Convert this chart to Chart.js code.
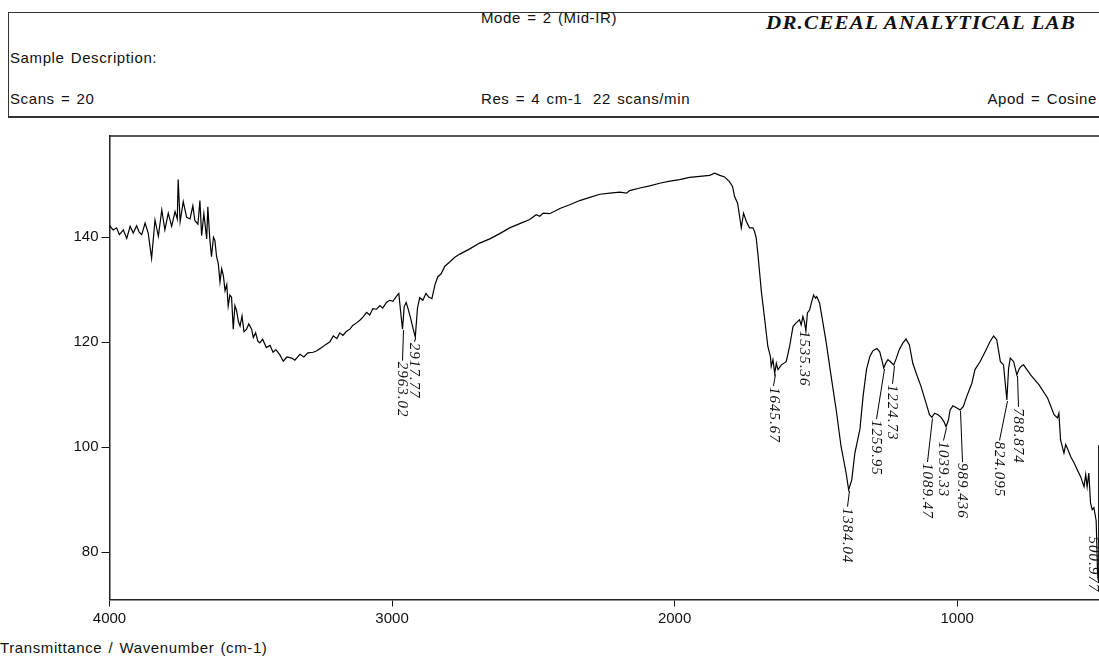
<!DOCTYPE html>
<html>
<head>
<meta charset="utf-8">
<script src="https://cdn.jsdelivr.net/npm/chart.js@4.4.1/dist/chart.umd.min.js"></script>
<style>
  html, body { margin:0; padding:0; background:#fff; }
  body { width:1099px; height:660px; position:relative; overflow:hidden; font-family:"Liberation Sans", Arial, sans-serif; color:#111; }
  .t { position:absolute; font-size:15px; line-height:16px; letter-spacing:0.6px; word-spacing:1.5px; white-space:nowrap; }
  #box { position:absolute; left:8px; top:12px; width:1100px; height:103px; border-top:1.5px solid #333; border-left:1.5px solid #333; border-bottom:2px solid #333; }
  #lab { position:absolute; left:766px; top:13px; font-family:"Liberation Serif", "Times New Roman", serif; font-weight:bold; font-style:italic; font-size:18px; line-height:20px; letter-spacing:1px; white-space:nowrap; color:#111; transform:scaleX(1.17); transform-origin:0 0; }
  canvas { position:absolute; left:0; top:0; }
</style>
</head>
<body>
<div id="box"></div>
<div class="t" style="left:481px; top:10px;">Mode = 2 (Mid-IR)</div>
<div id="lab">DR.CEEAL ANALYTICAL LAB</div>
<div class="t" style="left:10px; top:50px;">Sample Description:</div>
<div class="t" style="left:10px; top:91px;">Scans = 20</div>
<div class="t" style="left:481px; top:91px;">Res = 4 cm-1</div>
<div class="t" style="left:593px; top:91px;">22 scans/min</div>
<div class="t" style="right:2px; top:91px;">Apod = Cosine</div>
<div class="t" style="left:0px; top:640px;">Transmittance / Wavenumber (cm-1)</div>
<canvas id="c" width="1099" height="660"></canvas>
<script>
// ---- data (wavenumber cm-1, %T) ----
const wavenumbers = [
 4000,3987,3975,3965,3951,3939,3927,3916,3904,3895,3886,3874,3863,3851,3839,3827,3815,3804,3792,3780,
 3768,3760,3757,3750,3739,3727,3715,3705,3698,3687,3680,3674,3666,3656,3652,3645,3639,3632,3627,3621,
 3615,3609,3603,3597,3591,3585,3580,3574,3568,3562,3556,3550,3544,3538,3531,3524,3515,3507,3497,3491,
 3483,3475,3468,3458,3445,3432,3421,3411,3397,3385,3372,3355,3344,3326,3312,3298,3279,3266,3249,3234,
 3220,3208,3195,3185,3174,3161,3149,3139,3126,3114,3103,3090,3079,3068,3055,3043,3033,3020,3008,2997,
 2984,2976,2970,2963.02,2957,2950,2944,2934,2925,2917.77,2910,2902,2891,2880,2870,2859,2848,2838,2827,2813,
 2796,2778,2760,2725,2690,2654,2619,2584,2548,2513,2490,2477,2465,2442,2406,2371,2336,2300,2265,2229,
 2194,2170,2159,2123,2088,2053,2017,1982,1947,1911,1876,1858,1840,1823,1806,1795,1788,1777,1764,1756,
 1746,1735,1723,1717,1711,1705,1699,1693,1681,1670,1661,1658,1652,1645.67,1640,1634,1622,1605,1593,1581,
 1570,1558,1552,1546,1540,1535.36,1530,1522,1516,1508,1501,1497,1487,1475,1463,1446,1428,1411,1393,1384.04,
 1373,1362,1344,1333,1321,1309,1298,1284,1274,1265,1259.95,1253,1245,1236,1224.73,1217,1205,1193,1181,1169,
 1157,1145,1128,1110,1098,1089.47,1080,1068,1057,1047,1039.33,1031,1025,1015,1001,989.436,978,966,948,937,
 919,901,883,871,860,847,836,824.095,818,812,800,788.874,780,772,765,740,710,680,657,645,
 640,634,622,616,610,598,586,575,563,551,545,540,534,528,522,516,508,503,500.9,499
];
const transmittance = [
 142.2,141.4,141.8,140.5,141.4,139.8,142.1,140.8,142.2,141.0,140.5,142.7,140.8,136.0,143.3,140.2,145.2,141.4,144.6,142.1,
 144.9,143.5,151.0,143.0,146.8,143.8,143.5,146.0,143.2,142.5,147.0,140.3,144.5,139.7,145.8,139.7,136.3,140.0,139.4,136.3,
 135.0,131.5,134.0,132.7,129.8,131.0,126.9,129.0,128.6,122.5,127.0,126.0,124.0,123.1,125.0,122.0,122.5,123.5,122.5,120.9,
 121.8,120.2,119.9,120.6,119.0,119.4,118.1,118.6,117.6,116.4,117.2,117.0,116.6,117.7,117.2,118.0,118.1,118.4,119.0,119.6,
 120.1,121.2,120.7,121.8,121.3,122.1,122.5,123.2,123.7,124.2,124.8,125.7,125.2,126.4,126.3,127.0,126.5,127.6,128.0,127.8,
 128.8,129.3,126.0,122.5,126.8,127.6,126.5,124.5,122.5,121.0,126.5,128.5,128.0,129.3,128.6,128.3,131.0,132.5,133.0,134.5,
 135.3,136.2,136.8,137.8,138.9,139.7,140.7,141.8,142.6,143.4,144.3,144.0,144.6,144.5,145.5,146.2,147.0,147.6,148.2,148.4,
 148.6,148.4,148.9,149.4,149.8,150.3,150.7,151.0,151.4,151.6,151.8,152.2,151.8,151.5,150.6,149.7,147.8,146.5,141.8,144.6,
 143.0,141.8,141.8,141.1,139.8,136.7,133.2,129.7,124.3,119.2,117.3,115.4,116.7,114.1,116.0,114.8,115.7,116.3,119.2,123.0,
 123.7,124.3,123.3,124.9,123.8,122.1,125.6,126.2,127.5,129.0,128.4,128.7,127.5,123.7,119.8,113.5,107.1,100.2,95.1,91.9,
 93.8,98.9,103.5,109.7,114.8,117.3,118.4,118.8,118.2,116.3,115.1,116.0,116.7,116.3,115.7,116.7,118.6,119.8,120.6,119.5,
 116.0,114.1,111.6,108.4,106.2,105.7,106.5,106.2,105.7,104.9,103.9,105.2,107.1,107.9,107.5,107.1,107.8,109.7,112.2,114.8,
 116.3,118.2,120.2,121.2,120.5,116.3,115.7,109.0,115.0,117.0,116.3,113.8,115.0,115.5,115.7,113.8,111.9,109.4,106.2,105.6,
 106.5,101.4,98.9,100.5,99.8,98.2,97.0,95.7,94.4,92.5,94.8,92.5,95.1,89.4,88.1,88.5,86.0,76.0,74.8,100.4
];
// peak picks: wavenumber of the pick, printed label, where the printed label sits (cm-1) and the %T level where it begins
const peakWavenumbers   = [2963.02, 2917.77, 1645.67, 1535.36, 1384.04, 1259.95, 1224.73, 1089.47, 1039.33, 989.436, 824.095, 788.874, 500.9];
const peakLabels        = ['2963.02','2917.77','1645.67','1535.36','1384.04','1259.95','1224.73','1089.47','1039.33','989.436','824.095','788.874','500.977'];
const peakLabelWavenums = [2966, 2922, 1650, 1542, 1389, 1289, 1231, 1106, 1050, 983, 852, 786, 500.9];
const peakLabelLevels   = [116.3, 119.9, 111.5, 122.2, 88.5, 105.2, 111.9, 97.0, 101.1, 97.0, 101.1, 107.5, 83.0];
const xTicks = [4000, 3000, 2000, 1000];
const yTicks = [80, 100, 120, 140];

const points = wavenumbers.map((w, i) => ({ x: w, y: transmittance[i] }));

const peakPlugin = {
  id: 'peaks',
  afterDatasetsDraw(chart) {
    const ctx = chart.ctx;
    const xs = chart.scales.x, ys = chart.scales.y;
    ctx.save();
    ctx.strokeStyle = '#000';
    ctx.fillStyle = '#111';
    ctx.lineWidth = 1;
    ctx.font = 'italic 15px "Liberation Serif", "Times New Roman", serif';
    try { ctx.letterSpacing = '1px'; } catch (e) {}
    peakWavenumbers.forEach((w, i) => {
      const idx = wavenumbers.indexOf(w);
      const px = xs.getPixelForValue(w);
      const py = ys.getPixelForValue(transmittance[idx]);
      const top = ys.getPixelForValue(peakLabelLevels[i]);
      const lx = Math.min(xs.getPixelForValue(peakLabelWavenums[i]), chart.width - 6);
      if (top > py + 2) {
        ctx.beginPath();
        ctx.moveTo(Math.round(px) + 0.5, py + 1);
        ctx.lineTo(Math.round(lx) + 0.5, top - 1);
        ctx.stroke();
      }
      ctx.save();
      ctx.translate(lx, top);
      ctx.rotate(Math.PI / 2);
      ctx.textAlign = 'left';
      ctx.textBaseline = 'middle';
      ctx.fillText(peakLabels[i], 0, 0);
      ctx.restore();
    });
    ctx.restore();
  },
  afterDraw(chart) {
    const ctx = chart.ctx, a = chart.chartArea;
    ctx.save();
    ctx.strokeStyle = '#222';
    ctx.lineWidth = 1.5;
    ctx.beginPath();
    ctx.moveTo(a.left, a.top);
    ctx.lineTo(chart.width, a.top);
    ctx.stroke();
    ctx.restore();
  }
};

new Chart(document.getElementById('c'), {
  type: 'line',
  data: { datasets: [{ data: points, borderColor: '#000', borderWidth: 1.2, pointRadius: 0, tension: 0, fill: false }] },
  options: {
    responsive: false, animation: false, devicePixelRatio: 1,
    parsing: false,
    layout: { padding: { top: 136, right: 0, bottom: 30.5, left: 0 } },
    plugins: { legend: { display: false }, tooltip: { enabled: false } },
    scales: {
      x: {
        type: 'linear', reverse: true, min: 498, max: 4000,
        afterBuildTicks: s => { s.ticks = xTicks.map(v => ({ value: v })); },
        afterFit: s => { s.height = 30; },
        grid: { display: true, drawOnChartArea: false, drawTicks: true, tickLength: 7, color: '#111', lineWidth: 1 },
        border: { display: true, color: '#222', width: 1.5 },
        ticks: { color: '#111', font: { family: '"Liberation Sans", Arial, sans-serif', size: 15 }, padding: 3, maxRotation: 0, autoSkip: false, callback: v => String(v) }
      },
      y: {
        type: 'linear', min: 71, max: 159.3,
        afterBuildTicks: s => { s.ticks = yTicks.map(v => ({ value: v })); },
        afterFit: s => { s.width = 109.5; },
        grid: { display: true, drawOnChartArea: false, drawTicks: true, tickLength: 8, color: '#111', lineWidth: 1 },
        border: { display: true, color: '#222', width: 1.5 },
        ticks: { color: '#111', font: { family: '"Liberation Sans", Arial, sans-serif', size: 15 }, padding: 3, callback: v => String(v) }
      }
    }
  },
  plugins: [peakPlugin]
});
</script>
</body>
</html>
